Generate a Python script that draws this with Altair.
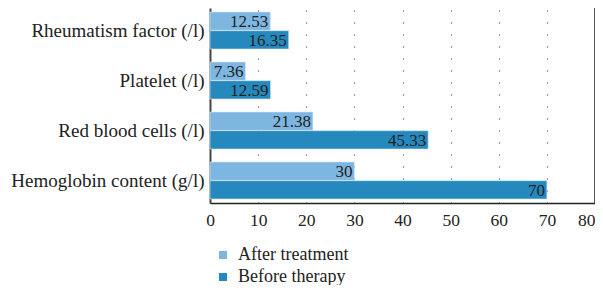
import altair as alt
import pandas as pd

categories = ["Rheumatism factor (/l)", "Platelet (/l)", "Red blood cells (/l)", "Hemoglobin content (g/l)"]
after_treatment = [12.53, 7.36, 21.38, 30]
before_therapy = [16.35, 12.59, 45.33, 70]
series = ["After treatment", "Before therapy"]
x_ticks = [0, 10, 20, 30, 40, 50, 60, 70, 80]

rows = []
for c, a, b in zip(categories, after_treatment, before_therapy):
    rows.append({"category": c, "series": series[0], "value": a, "label": f"{a:g}"})
    rows.append({"category": c, "series": series[1], "value": b, "label": f"{b:g}"})
df = pd.DataFrame(rows)

FONT = "Liberation Serif"

y_enc = alt.Y("category:N", sort=categories, title=None,
              scale=alt.Scale(paddingInner=0.26, paddingOuter=0.08),
              axis=alt.Axis(labelFont=FONT, labelFontSize=19, labelColor="#222222",
                            ticks=False, labelPadding=6, labelLimit=300,
                            domainColor="#444444", domainWidth=2, grid=False))
yoff = alt.YOffset("series:N", sort=series, scale=alt.Scale(paddingInner=0.02))

bars = alt.Chart(df).mark_bar(stroke="#d6e8f4", strokeWidth=0.6).encode(
    x=alt.X("value:Q", title=None,
            scale=alt.Scale(domain=[0, 80], nice=False),
            axis=alt.Axis(values=x_ticks, labelFont=FONT, labelFontSize=17.5,
                          labelColor="#222222", ticks=False, labelPadding=8,
                          labelFlush=False,
                          labelAlign=alt.ExprRef("datum.value >= 80 ? 'right' : 'center'"),
                          domainColor="#222222", domainWidth=1.5,
                          grid=True, gridColor="#333333", gridDash=[1, 11],
                          gridWidth=1)),
    y=y_enc,
    yOffset=yoff,
    color=alt.Color("series:N", sort=series,
                    scale=alt.Scale(domain=series, range=["#7db6e0", "#2589be"]),
                    legend=alt.Legend(title=None, orient="none", legendX=4, legendY=238,
                                      symbolType="square", symbolSize=64,
                                      symbolStrokeWidth=0,
                                      labelFont=FONT, labelFontSize=18,
                                      labelColor="#222222", labelOffset=6,
                                      rowPadding=4)),
)

labels = alt.Chart(df).mark_text(align="right", baseline="middle", dx=-2, dy=1,
                                 font=FONT, fontSize=17, color="#222222").encode(
    x="value:Q",
    y=alt.Y("category:N", sort=categories),
    yOffset=yoff,
    text="label:N",
)

right_border = alt.Chart(pd.DataFrame({"v": [80]})).mark_rule(color="#222222", strokeWidth=1.5).encode(
    x="v:Q"
)

chart = alt.layer(bars, labels, right_border).properties(
    width=385, height=195,
    autosize=alt.AutoSizeParams(type="none"),
    padding={"left": 202, "top": 0, "right": 0, "bottom": 82},
).configure_view(stroke=None)

chart.save("out.html", embed_options={"renderer": "svg", "actions": False})
